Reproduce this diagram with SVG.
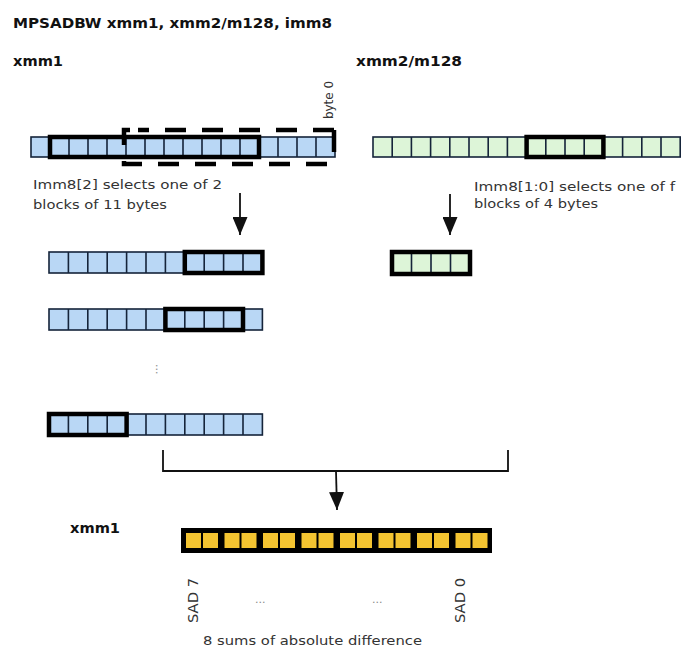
<svg xmlns="http://www.w3.org/2000/svg" width="685" height="648" viewBox="0 0 685 648">
<style>
  .title{font-family:"DejaVu Sans",Verdana,sans-serif;font-weight:bold;font-size:14px;fill:#111}
  .lbl{font-family:"DejaVu Sans",Verdana,sans-serif;font-size:13px;fill:#333}
  .blue{fill:#b9d7f5;stroke:#15243a;stroke-width:1.6}
  .green{fill:#ddf5d8;stroke:#15243a;stroke-width:1.6}
  .div{fill:none;stroke:#15243a;stroke-width:1.6}
  .sel{fill:none;stroke:#000;stroke-width:4.5}
  .dash{fill:none;stroke:#000;stroke-width:4.5;stroke-dasharray:21 16}
  .yc{fill:#f4c431}
  .conn{fill:none;stroke:#111;stroke-width:1.8}
  .dots{font-family:"DejaVu Sans",sans-serif;font-size:11px;fill:#888}
</style>
<defs>
  <marker id="ah" markerWidth="18" markerHeight="15" refX="18" refY="7.5" orient="auto" markerUnits="userSpaceOnUse" viewBox="0 0 18 15">
    <path d="M0,0 L18,7.5 L0,15 Z" fill="#111"/>
  </marker>
</defs>

<text class="title" x="13" y="28" textLength="319" lengthAdjust="spacingAndGlyphs">MPSADBW xmm1, xmm2/m128, imm8</text>
<text class="title" x="13" y="66" textLength="50" lengthAdjust="spacingAndGlyphs">xmm1</text>
<text class="title" x="356" y="66" textLength="106" lengthAdjust="spacingAndGlyphs">xmm2/m128</text>
<text class="lbl" transform="translate(333,119) rotate(-90)" textLength="38" lengthAdjust="spacingAndGlyphs">byte 0</text>

<g id="xmm1-src">
  <rect class="blue" x="31" y="137" width="304" height="20"/>
  <path class="div" d="M50,137v20M69,137v20M88,137v20M107,137v20M126,137v20M145,137v20M164,137v20M183,137v20M202,137v20M221,137v20M240,137v20M259,137v20M278,137v20M297,137v20M316,137v20"/>
  <rect class="sel" x="50" y="137" width="209" height="20"/>
  <path class="dash" d="M130,130 H124 V164 H334"/>
  <path class="dash" d="M334,130 H138"/>
  <path d="M334,130 V152" stroke="#000" stroke-width="4.5" fill="none"/>
</g>

<g id="xmm2-src">
  <rect class="green" x="373" y="137" width="307.2" height="20"/>
  <path class="div" d="M392.2,137v20M411.4,137v20M430.6,137v20M449.8,137v20M469,137v20M488.2,137v20M507.4,137v20M526.6,137v20M545.8,137v20M565,137v20M584.2,137v20M603.4,137v20M622.6,137v20M641.8,137v20M661,137v20"/>
  <rect class="sel" x="526.6" y="137" width="76.8" height="20"/>
</g>

<text class="lbl" x="33" y="189" textLength="189" lengthAdjust="spacingAndGlyphs">Imm8[2] selects one of 2</text>
<text class="lbl" x="33" y="209" textLength="134" lengthAdjust="spacingAndGlyphs">blocks of 11 bytes</text>
<text class="lbl" x="474" y="191" textLength="201" lengthAdjust="spacingAndGlyphs">Imm8[1:0] selects one of f</text>
<text class="lbl" x="474" y="208" textLength="124" lengthAdjust="spacingAndGlyphs">blocks of 4 bytes</text>

<g id="row1">
  <rect class="blue" x="49" y="252" width="213.4" height="21"/>
  <path class="div" d="M68.4,252v21M87.8,252v21M107.2,252v21M126.6,252v21M146,252v21M165.4,252v21M184.8,252v21M204.2,252v21M223.6,252v21M243,252v21"/>
  <rect class="sel" x="184.8" y="252" width="77.6" height="21"/>
</g>
<g id="row2">
  <rect class="blue" x="49" y="309" width="213.4" height="21"/>
  <path class="div" d="M68.4,309v21M87.8,309v21M107.2,309v21M126.6,309v21M146,309v21M165.4,309v21M184.8,309v21M204.2,309v21M223.6,309v21M243,309v21"/>
  <rect class="sel" x="165.4" y="309" width="77.6" height="21"/>
</g>
<text class="dots" transform="translate(156,364) rotate(90)">...</text>
<g id="row8">
  <rect class="blue" x="49" y="414" width="213.4" height="21"/>
  <path class="div" d="M68.4,414v21M87.8,414v21M107.2,414v21M126.6,414v21M146,414v21M165.4,414v21M184.8,414v21M204.2,414v21M223.6,414v21M243,414v21"/>
  <rect class="sel" x="49" y="414" width="77.6" height="21"/>
</g>

<g id="xmm2-block">
  <rect class="green" x="392" y="252" width="78" height="22"/>
  <path class="div" d="M411.5,252v22M431,252v22M450.5,252v22"/>
  <rect class="sel" x="392" y="252" width="78" height="22"/>
</g>

<g id="connectors">
  <path class="conn" d="M240,193 V235" marker-end="url(#ah)"/>
  <path class="conn" d="M450,194 V235" marker-end="url(#ah)"/>
  <path class="conn" d="M163,450 V471 H508 V450"/>
  <path class="conn" d="M336,471 L337,510" marker-end="url(#ah)"/>
</g>

<g id="xmm1-dst">
  <rect x="181" y="528" width="311" height="25" fill="#000"/>
  <rect class="yc" x="186" y="533" width="15" height="15"/><rect class="yc" x="203" y="533" width="15" height="15"/>
  <rect class="yc" x="224.5" y="533" width="15" height="15"/><rect class="yc" x="241.5" y="533" width="15" height="15"/>
  <rect class="yc" x="263" y="533" width="15" height="15"/><rect class="yc" x="280" y="533" width="15" height="15"/>
  <rect class="yc" x="301.5" y="533" width="15" height="15"/><rect class="yc" x="318.5" y="533" width="15" height="15"/>
  <rect class="yc" x="340" y="533" width="15" height="15"/><rect class="yc" x="357" y="533" width="15" height="15"/>
  <rect class="yc" x="378.5" y="533" width="15" height="15"/><rect class="yc" x="395.5" y="533" width="15" height="15"/>
  <rect class="yc" x="417" y="533" width="15" height="15"/><rect class="yc" x="434" y="533" width="15" height="15"/>
  <rect class="yc" x="455.5" y="533" width="15" height="15"/><rect class="yc" x="472.5" y="533" width="15" height="15"/>
</g>
<text class="title" x="70" y="533" textLength="50" lengthAdjust="spacingAndGlyphs">xmm1</text>
<text class="lbl" style="font-size:14px" transform="translate(198,623) rotate(-90)" textLength="45" lengthAdjust="spacingAndGlyphs">SAD 7</text>
<text class="lbl" style="font-size:14px" transform="translate(465,623) rotate(-90)" textLength="45" lengthAdjust="spacingAndGlyphs">SAD 0</text>
<text class="dots" x="255" y="603">...</text>
<text class="dots" x="372" y="603">...</text>
<text class="lbl" x="203" y="645" textLength="219" lengthAdjust="spacingAndGlyphs">8 sums of absolute difference</text>
</svg>
